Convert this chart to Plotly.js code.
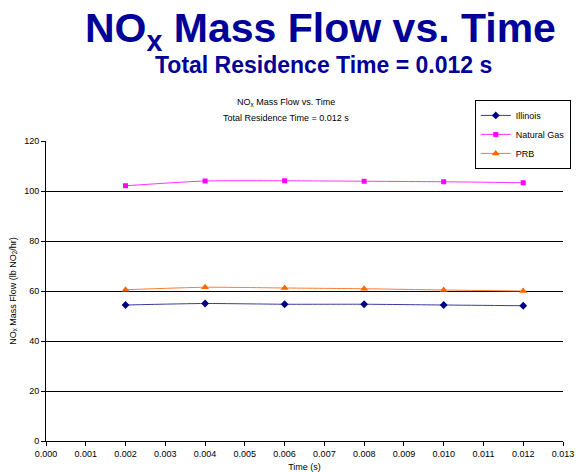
<!DOCTYPE html>
<html><head><meta charset="utf-8">
<script src="https://cdn.plot.ly/plotly-3.0.1.min.js"></script>
<style>html,body{margin:0;padding:0;background:#fff}</style>
</head><body><div id="chart" style="width:582px;height:472px"></div>
<script>
var time = [0.002, 0.004, 0.006, 0.008, 0.010, 0.012];
var illinois = [54.4, 55.0, 54.7, 54.7, 54.4, 54.1];
var naturalGas = [102.1, 104.0, 104.1, 103.9, 103.7, 103.3];
var prb = [60.5, 61.5, 61.2, 60.9, 60.4, 60.0];
var xTicks = [0,0.001,0.002,0.003,0.004,0.005,0.006,0.007,0.008,0.009,0.010,0.011,0.012,0.013];
var yTicks = [0,20,40,60,80,100,120];

var traces = [
 {x: time, y: illinois, name: 'Illinois', mode: 'lines+markers',
  line: {color: '#3a3aa0', width: 1, shape: 'spline', smoothing: 0.6},
  marker: {symbol: 'diamond', size: 6, color: '#000080'}},
 {x: time, y: naturalGas, name: 'Natural Gas', mode: 'lines+markers',
  line: {color: '#ff33ff', width: 1, shape: 'spline', smoothing: 0.6},
  marker: {symbol: 'square', size: 5, color: '#ff00ff'}},
 {x: time, y: prb, name: 'PRB', mode: 'lines+markers',
  line: {color: '#ff7a30', width: 1, shape: 'spline', smoothing: 0.6},
  marker: {symbol: 'triangle-up', size: 7, color: '#ff6600'}}
];

var f = 'Liberation Sans, Arial, sans-serif';
var layout = {
 width: 582, height: 472,
 margin: {l: 46, r: 11, t: 141, b: 31},
 paper_bgcolor: '#ffffff', plot_bgcolor: '#ffffff',
 font: {family: f, size: 9, color: '#000'},
 showlegend: true,
 legend: {x: 1.015, y: 1.137, xanchor: 'right', yanchor: 'top',
  bordercolor: '#000', borderwidth: 1, bgcolor: '#fff',
  font: {family: f, size: 9, color: '#000'}, tracegroupgap: 0, itemwidth: 30},
 xaxis: {range: [0, 0.013], tickvals: xTicks, ticktext: xTicks.map(function(v){return v.toFixed(3);}),
  showgrid: false, zeroline: false, showline: true, linecolor: '#000', linewidth: 1,
  ticks: 'outside', ticklen: 4, tickcolor: '#000',
  title: {text: 'Time (s)', font: {family: f, size: 9}, standoff: 5}},
 yaxis: {range: [0, 120], tickvals: yTicks, showgrid: true, gridcolor: '#000', gridwidth: 1,
  zeroline: false, showline: true, linecolor: '#000', linewidth: 1,
  ticks: 'outside', ticklen: 4, tickcolor: '#000',
  title: {text: 'NO<sub>x</sub> Mass Flow (lb NO<sub>2</sub>/hr)', font: {family: f, size: 9}, standoff: 6}},
 annotations: [
  {xref: 'paper', yref: 'paper', x: 0.530, y: 1.46, xanchor: 'center', yanchor: 'top', showarrow: false,
   text: '<b>NO<sub>x</sub> Mass Flow vs. Time</b>',
   font: {family: f, size: 41, color: '#000099'}},
  {xref: 'paper', yref: 'paper', x: 0.536, y: 1.304, xanchor: 'center', yanchor: 'top', showarrow: false,
   text: '<b>Total Residence Time = 0.012 s</b>',
   font: {family: f, size: 23, color: '#000099'}},
  {xref: 'paper', yref: 'paper', x: 0.465, y: 1.127, xanchor: 'center', yanchor: 'middle', showarrow: false,
   text: 'NO<sub>x</sub> Mass Flow vs. Time',
   font: {family: f, size: 9, color: '#000'}},
  {xref: 'paper', yref: 'paper', x: 0.465, y: 1.077, xanchor: 'center', yanchor: 'middle', showarrow: false,
   text: 'Total Residence Time = 0.012 s',
   font: {family: f, size: 9, color: '#000'}}
 ]
};
Plotly.newPlot('chart', traces, layout, {displayModeBar: false, staticPlot: true});
</script></body></html>
